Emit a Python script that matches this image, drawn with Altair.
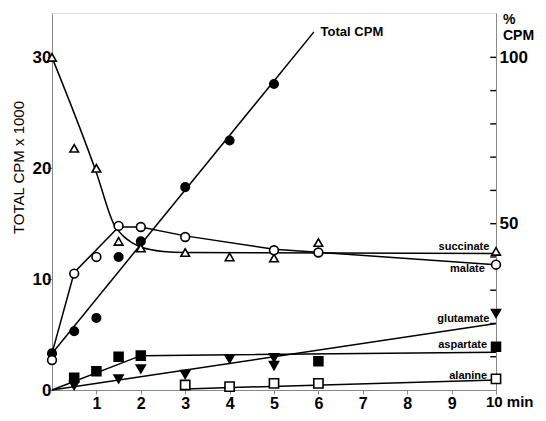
import altair as alt
import pandas as pd

# ---- data (time in min, values in CPM x 1000) ----
total_t = [0, 0.5, 1, 1.5, 2, 3, 4, 5]
total_v = [3.3, 5.3, 6.5, 12.0, 13.4, 18.3, 22.5, 27.6]
total_line_t = [0, 5.9]
total_line_v = [3.3, 32.3]

succ_t = [0, 0.5, 1, 1.5, 2, 3, 4, 5, 6, 10]
succ_v = [30.0, 21.8, 20.0, 13.4, 12.8, 12.4, 12.0, 11.9, 13.3, 12.5]
succ_line_t = [0, 1, 1.4, 1.6, 1.8, 2.0, 2.5, 3, 10]
succ_line_v = [30.0, 19.6, 14.9, 13.9, 13.3, 12.9, 12.5, 12.4, 12.3]

mal_t = [0, 0.5, 1, 1.5, 2, 3, 5, 6, 10]
mal_v = [2.7, 10.5, 12.0, 14.8, 14.7, 13.8, 12.6, 12.4, 11.3]
mal_line_t = [0, 0.5, 1.5, 2, 3, 5, 10]
mal_line_v = [3.3, 10.6, 14.7, 14.7, 13.9, 12.7, 11.3]

asp_t = [0.5, 1, 1.5, 2, 6, 10]
asp_v = [1.1, 1.7, 3.0, 3.1, 2.6, 3.9]
asp_line_t = [0, 2, 10]
asp_line_v = [0, 3.1, 3.4]

glu_t = [0.5, 1.5, 2, 3, 4, 5, 5, 10]
glu_v = [0.4, 1.0, 1.9, 1.4, 2.8, 2.9, 2.2, 6.9]
glu_line_t = [0, 10]
glu_line_v = [0, 6.0]

ala_t = [3, 4, 5, 6, 10]
ala_v = [0.45, 0.3, 0.6, 0.6, 1.0]
ala_line_t = [3, 10]
ala_line_v = [0.1, 0.9]

series_names = ["total", "succinate", "malate", "aspartate", "glutamate", "alanine"]
series_shapes = ["circle", "triangle-up", "circle", "square", "triangle-down", "square"]
series_fills = ["black", "white", "white", "black", "black", "white"]
series_sizes = [72, 85, 72, 64, 90, 64]

label_names = ["succinate", "malate", "glutamate", "aspartate", "alanine"]
label_t = [9.85, 9.75, 9.85, 9.8, 9.8]
label_v = [12.9, 10.9, 6.4, 4.1, 1.3]

pct_ticks = [10, 20, 30, 40, 50, 60, 70, 80, 90, 100]
x_ticks = [1, 2, 3, 4, 5, 6, 7, 8, 9, 10]
y_ticks = [0, 10, 20, 30]

FONT = "Liberation Sans"

# ---- tables ----
def pts(name, t, v):
    return pd.DataFrame({"series": name, "t": t, "v": v})

points = pd.concat([
    pts("total", total_t, total_v),
    pts("succinate", succ_t, succ_v),
    pts("malate", mal_t, mal_v),
    pts("aspartate", asp_t, asp_v),
    pts("glutamate", glu_t, glu_v),
    pts("alanine", ala_t, ala_v),
], ignore_index=True)

lines = pd.concat([
    pts("total", total_line_t, total_line_v),
    pts("malate", mal_line_t, mal_line_v),
    pts("aspartate", asp_line_t, asp_line_v),
    pts("glutamate", glu_line_t, glu_line_v),
    pts("alanine", ala_line_t, ala_line_v),
], ignore_index=True)
succ_line = pts("succinate", succ_line_t, succ_line_v)
labels = pd.DataFrame({"name": label_names, "t": label_t, "v": label_v})

xscale = alt.Scale(domain=[0, 10], nice=False)
yscale = alt.Scale(domain=[0, 34], nice=False)

x_enc = alt.X("t:Q", scale=xscale, axis=alt.Axis(
    values=x_ticks, labelExpr="datum.value == 10 ? '' : datum.label",
    title=None, grid=False, tickSize=4, labelPadding=1,
    labelFontSize=16, labelFontWeight="bold", labelFont=FONT, labelColor="black"))
y_enc = alt.Y("v:Q", scale=yscale, axis=alt.Axis(
    values=y_ticks, title="TOTAL CPM x 1000", grid=False, tickSize=5,
    labelFontSize=17, labelFontWeight="bold", labelFont=FONT, labelPadding=-4,
    labelColor="black", titleColor="black",
    titleFont=FONT, titleFontSize=15, titleFontWeight="normal",
    titleX=-34, titleY=154, titleAlign="center", titleBaseline="middle"))

line_layer = alt.Chart(lines).mark_line(color="black", strokeWidth=1.5).encode(
    x=x_enc, y=y_enc, detail="series:N")
succ_layer = alt.Chart(succ_line).mark_line(
    color="black", strokeWidth=1.5, interpolate="monotone").encode(
    x=alt.X("t:Q", scale=xscale), y=alt.Y("v:Q", scale=yscale))

point_layer = alt.Chart(points).mark_point(
    stroke="black", strokeWidth=1.6, opacity=1, fillOpacity=1).encode(
    x=alt.X("t:Q", scale=xscale),
    y=alt.Y("v:Q", scale=yscale),
    shape=alt.Shape("series:N", scale=alt.Scale(domain=series_names, range=series_shapes), legend=None),
    fill=alt.Fill("series:N", scale=alt.Scale(domain=series_names, range=series_fills), legend=None),
    size=alt.Size("series:N", scale=alt.Scale(domain=series_names, range=series_sizes), legend=None),
)

text_layer = alt.Chart(labels).mark_text(
    align="right", baseline="middle", font=FONT, fontSize=11, fontWeight="bold", color="black").encode(
    x=alt.X("t:Q", scale=xscale), y=alt.Y("v:Q", scale=yscale), text="name:N")

total_label = alt.Chart(pd.DataFrame({"t": [6.05], "v": [32.3], "s": ["Total CPM"]})).mark_text(
    align="left", baseline="middle", font=FONT, fontSize=13, fontWeight="bold", color="black").encode(
    x=alt.X("t:Q", scale=xscale), y=alt.Y("v:Q", scale=yscale), text="s:N")

min_label = alt.Chart(pd.DataFrame({"t": [10], "v": [0], "s": ["10 min"]})).mark_text(
    align="left", baseline="top", dx=-10, dy=5, font=FONT, fontSize=15, fontWeight="bold", color="black").encode(
    x=alt.X("t:Q", scale=xscale), y=alt.Y("v:Q", scale=yscale), text="s:N")

pct_label = alt.Chart(pd.DataFrame({"t": [10, 10], "v": [33.4, 31.9], "s": ["%", "CPM"]})).mark_text(
    align="left", baseline="middle", dx=7, font=FONT, fontSize=14, fontWeight="bold", color="black").encode(
    x=alt.X("t:Q", scale=xscale), y=alt.Y("v:Q", scale=yscale), text="s:N")

left = alt.layer(line_layer, succ_layer, point_layer, text_layer, total_label, min_label, pct_label)

right = alt.Chart(pd.DataFrame({"pct": pct_ticks})).mark_rule(color="black", strokeWidth=1.4).encode(
    y=alt.Y("pct:Q", scale=alt.Scale(domain=[0, 34 / 0.3], nice=False), axis=alt.Axis(
        orient="right", values=[50, 100], ticks=False, title=None, grid=False,
        labelPadding=3, labelFontSize=17, labelFont=FONT, labelFontWeight="bold",
        labelColor="black")),
    x=alt.datum(9.87), x2=alt.datum(10),
)

chart = alt.layer(left, right).resolve_scale(y="independent").properties(
    width=444, height=377,
    padding={"left": 44, "top": 5, "right": 42, "bottom": 21},
    autosize=alt.AutoSizeParams(type="none"),
).configure_view(stroke=None).configure_axis(
    domainColor="black", tickColor="black", labelColor="black", titleColor="black",
    domainWidth=1.5, tickWidth=1.5,
).configure(background="white")

chart.save("out.html", embed_options={"renderer": "svg", "actions": False})
